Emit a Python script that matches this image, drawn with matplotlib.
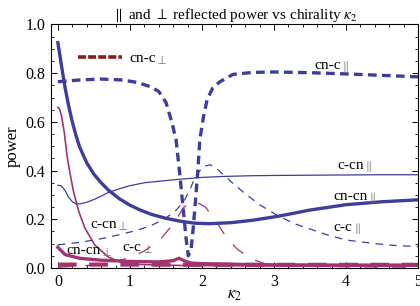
import numpy as np
import matplotlib
matplotlib.use("Agg")
import matplotlib.pyplot as plt
from matplotlib.lines import Line2D

#%% Data
# cn-c parallel (thick dashed blue)
k_cnc_par = [0, 0.3, 0.6, 0.9, 1.1, 1.28, 1.4, 1.5, 1.58, 1.64, 1.69, 1.74, 1.78, 1.81,
             1.85, 1.88, 1.9, 1.94, 1.97, 2.02, 2.07, 2.15, 2.25, 2.43, 2.7, 3.0, 3.5,
             4.0, 4.5, 5.0]
p_cnc_par = [0.765, 0.772, 0.776, 0.772, 0.762, 0.745, 0.725, 0.68, 0.6, 0.527, 0.39,
             0.24, 0.12, 0.05, 0.08, 0.17, 0.24, 0.39, 0.527, 0.62, 0.69, 0.74, 0.765,
             0.795, 0.803, 0.805, 0.802, 0.797, 0.791, 0.785]

# cn-cn parallel (thick solid blue)
k_cncn_par = [0, 0.05, 0.1, 0.15, 0.2, 0.25, 0.3, 0.4, 0.5, 0.6, 0.7, 0.85, 1.0, 1.15,
              1.3, 1.5, 1.7, 1.9, 2.1, 2.4, 2.7, 3.05, 3.5, 4.0, 4.5, 5.0]
p_cncn_par = [0.925, 0.83, 0.74, 0.665, 0.6, 0.545, 0.498, 0.432, 0.385, 0.35, 0.32,
              0.285, 0.258, 0.237, 0.22, 0.204, 0.192, 0.184, 0.182, 0.186, 0.196,
              0.212, 0.238, 0.26, 0.272, 0.28]

# c-cn parallel (thin solid blue)
k_ccn_par = [0, 0.05, 0.1, 0.15, 0.2, 0.25, 0.3, 0.4, 0.5, 0.6, 0.7, 0.85, 1.0, 1.2, 1.4,
             1.6, 1.8, 2.0, 2.3, 2.7, 3.0, 3.5, 4.0, 4.5, 5.0]
p_ccn_par = [0.34, 0.337, 0.318, 0.29, 0.272, 0.264, 0.263, 0.27, 0.281, 0.295, 0.31,
             0.325, 0.338, 0.35, 0.356, 0.362, 0.367, 0.372, 0.376, 0.379, 0.38, 0.381,
             0.382, 0.383, 0.383]

# c-c parallel (thin dashed blue)
k_cc_par = [0, 0.3, 0.6, 0.9, 1.1, 1.3, 1.5, 1.65, 1.76, 1.83, 1.9, 2.01, 2.11, 2.2, 2.27,
            2.42, 2.6, 2.8, 3.05, 3.3, 3.5, 3.75, 4.0, 4.4, 4.7, 5.0]
p_cc_par = [0.095, 0.105, 0.12, 0.14, 0.155, 0.175, 0.205, 0.24, 0.28, 0.32, 0.37, 0.416,
            0.424, 0.41, 0.39, 0.35, 0.305, 0.26, 0.215, 0.18, 0.16, 0.135, 0.115, 0.1,
            0.092, 0.088]

# c-cn perp (thin solid magenta)
k_ccn_perp = [0, 0.02, 0.05, 0.09, 0.125, 0.17, 0.22, 0.29, 0.375, 0.51, 0.7, 0.89, 1.1,
              1.4, 1.8, 2.5, 3.5, 5.0]
p_ccn_perp = [0.66, 0.655, 0.625, 0.555, 0.465, 0.385, 0.31, 0.232, 0.164, 0.095, 0.045,
              0.022, 0.015, 0.012, 0.01, 0.009, 0.008, 0.008]

# c-c perp (thin long-dashed magenta)
k_cc_perp = [0, 0.5, 0.8, 1.0, 1.2, 1.4, 1.6, 1.75, 1.9, 2.05, 2.2, 2.35, 2.5, 2.7, 2.9,
             3.2, 4.0, 5.0]
p_cc_perp = [0.003, 0.012, 0.028, 0.042, 0.07, 0.11, 0.18, 0.25, 0.275, 0.25, 0.19, 0.12,
             0.075, 0.035, 0.015, 0.008, 0.005, 0.003]

# cn-cn perp (thick solid magenta)
k_cncn_perp = [0, 0.1, 0.3, 0.6, 1.0, 1.4, 1.6, 1.68, 1.75, 1.85, 2.0, 2.5, 3.0, 4.0, 5.0]
p_cncn_perp = [0.085, 0.055, 0.04, 0.032, 0.027, 0.025, 0.03, 0.04, 0.03, 0.02, 0.018,
               0.015, 0.013, 0.012, 0.012]

# cn-c perp (thick dashed magenta)
k_cnc_perp = [0, 1.0, 2.0, 3.0, 4.0, 5.0]
p_cnc_perp = [0.014, 0.014, 0.013, 0.013, 0.013, 0.013]

# curve labels: (main text, subscript, x, y)
labels = [('cn-c', r'$\parallel$', 3.74, 0.83),
          ('c-cn', r'$\parallel$', 4.06, 0.42),
          ('cn-cn', r'$\parallel$', 4.06, 0.295),
          ('c-c', r'$\parallel$', 3.96, 0.165),
          ('c-cn', r'$\perp$', 0.63, 0.18),
          ('cn-cn', r'$\perp$', 0.36, 0.072),
          ('c-c', r'$\perp$', 1.03, 0.085)]

blue = '#3d3d9e'
mag = '#a3336f'
darkred = '#8b1a1a'
subgray = '#7a7a7a'

plt.rcParams['font.family'] = ['Liberation Serif', 'DejaVu Serif']
plt.rcParams['mathtext.fontset'] = 'stix'


def add_sub(ax, txt, sub, z=3):
    # grey subscript glued to the right of a text
    ax.annotate(sub, xy=(1, 0), xycoords=txt, xytext=(0.3, -1.5),
                textcoords='offset points', fontsize=8.5, color=subgray,
                ha='left', va='bottom', zorder=z)


#%% Plot
fig = plt.figure(figsize=(4.2, 3.06), dpi=100)
ax = fig.add_axes([0.1207, 0.1242, 0.8748, 0.7958])

ax.plot(k_cnc_perp, p_cnc_perp, color=mag, lw=3.0, dashes=(4.5, 3))
ax.plot(k_cncn_perp, p_cncn_perp, color=mag, lw=2.4)
ax.plot(k_cc_perp, p_cc_perp, color=mag, lw=0.9, dashes=(11, 11))
ax.plot(k_ccn_perp, p_ccn_perp, color=mag, lw=1.2)
ax.plot(k_cc_par, p_cc_par, color=blue, lw=0.9, dashes=(6, 5))
ax.plot(k_ccn_par, p_ccn_par, color=blue, lw=0.9)
ax.plot(k_cncn_par, p_cncn_par, color=blue, lw=2.4)
ax.plot(k_cnc_par, p_cnc_par, color=blue, lw=2.4, dashes=(2.6, 1.6))

fs = 11
for main, sub, x, y in labels:
    t = ax.text(x, y, main, fontsize=fs, ha='center', va='center')
    add_sub(ax, t, sub)

h = Line2D([], [], color=darkred, lw=2.6, dashes=(2.2, 0.6))
leg = ax.legend(handles=[h], labels=['cn-c'], loc='center left',
                bbox_to_anchor=(0.074, 0.862), frameon=False, fontsize=fs,
                handlelength=2.9, handletextpad=0.45, borderpad=0, borderaxespad=0)
# legend is drawn at zorder 5, so its subscript has to come after it
add_sub(ax, leg.get_texts()[0], r'$\perp$', z=6)

ax.set_xlim(-0.1, 5.0)
ax.set_ylim(0, 1.0)
ax.set_xticks([0, 1, 2, 3, 4, 5])
ax.set_yticks([0, 0.2, 0.4, 0.6, 0.8, 1.0])
ax.set_yticklabels(['0.0', '0.2', '0.4', '0.6', '0.8', '1.0'])
ax.set_xticks(np.arange(0, 5.01, 0.2), minor=True)
ax.set_yticks(np.arange(0, 1.001, 0.05), minor=True)
ax.tick_params(which='both', direction='in', top=True, right=True, labelsize=11.5, pad=4)
ax.tick_params(which='major', length=4, width=0.7)
ax.tick_params(which='minor', length=2, width=0.6)
for s in ax.spines.values():
    s.set_linewidth(0.8)

ax.set_title(r'$\parallel$ and $\perp$ reflected power vs chirality $\kappa_2$',
             fontsize=11, pad=4)
ax.set_xlabel(r'$\kappa_2$', fontsize=12, labelpad=-2)
ax.set_ylabel('power', fontsize=12, labelpad=3)

fig.savefig('out.png', dpi=100)
